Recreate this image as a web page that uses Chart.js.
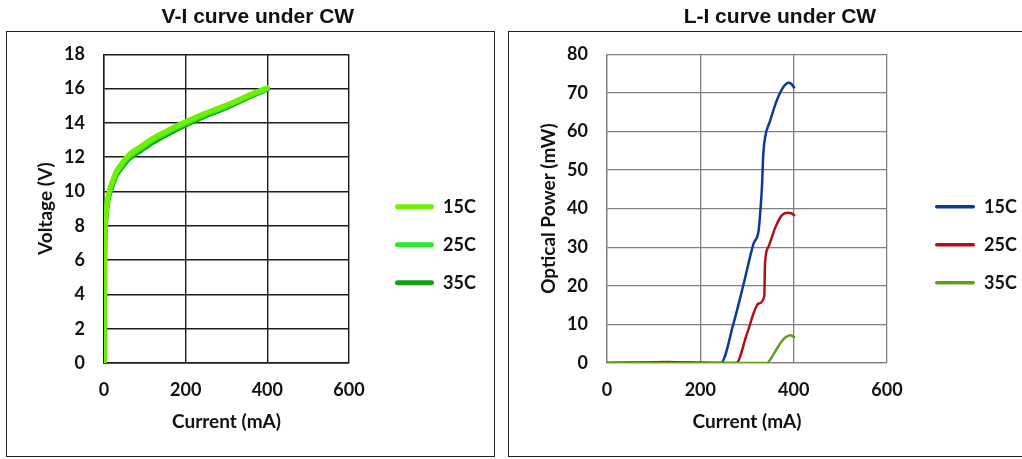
<!DOCTYPE html>
<html>
<head>
<meta charset="utf-8">
<script src="https://cdn.jsdelivr.net/npm/chart.js@4.4.1/dist/chart.umd.min.js"></script>
<style>
  body { margin: 0; background: #fff; }
  .frame { position: absolute; border: 1.5px solid #222; }
  canvas { position: absolute; top: 0; }
</style>
</head>
<body>
<div class="frame" style="left:6px;top:31px;width:487px;height:424px"></div>
<div class="frame" style="left:508px;top:31px;width:520px;height:424px"></div>
<canvas id="vi" width="500" height="459" style="left:0"></canvas>
<canvas id="li" width="518" height="459" style="left:504px"></canvas>
<script>
const temps = ['15C', '25C', '35C'];

// V-I curve (current mA -> voltage V)
const viCurrent = [0, 0.5, 1, 1.5, 2.5, 4, 7, 10, 15, 21, 29, 40, 60, 90, 121, 160, 203, 250, 304, 350, 400];
const viV15 = [0, 2, 4, 6, 7.55, 8.4, 9.22, 9.72, 10.22, 10.62, 11.12, 11.52, 12.12, 12.62, 13.12, 13.61, 14.1, 14.59, 15.08, 15.56, 16.05];
const viV25 = [0, 2, 4, 6, 7.5, 8.3, 9.1, 9.6, 10.1, 10.5, 11, 11.4, 12, 12.5, 13, 13.5, 14, 14.5, 15, 15.5, 16];
const viV35 = [0, 2, 4, 6, 7.45, 8.2, 8.98, 9.48, 9.98, 10.38, 10.88, 11.28, 11.88, 12.38, 12.88, 13.39, 13.9, 14.41, 14.92, 15.44, 15.96];

// L-I curve (current mA -> optical power mW)
const liI15 = [0, 60, 120, 180, 244, 271, 293, 314, 325, 329, 332, 335, 339, 350, 364, 378, 389, 395, 401];
const liP15 = [0, 0.1, 0, 0.1, 0, 10.2, 20.6, 30.9, 34.4, 40, 45.6, 54.3, 58.6, 62.9, 68.1, 71.5, 72.6, 72.3, 71.4];
const liI25 = [0, 60, 100, 130, 170, 200, 277, 300, 325, 337, 338.6, 346, 361, 375, 387, 395, 401];
const liP25 = [0, 0, 0.2, 0.25, 0.1, 0, 0, 7.6, 15.4, 17.3, 25.8, 30.1, 35.2, 38.3, 38.9, 38.8, 38.3];
const liI35 = [0, 100, 200, 300, 343, 352, 364, 373, 382, 393, 401];
const liP35 = [0, 0, 0, 0, 0, 1.3, 3.7, 5.4, 6.6, 7.2, 6.7];

const viColors = ['#6ef000', '#2ee82e', '#14a014'];
const liColors = ['#0b3a9c', '#b01010', '#62a01c'];

const family = 'Lato, "Open Sans", sans-serif';
Chart.defaults.font.family = family;
Chart.defaults.color = '#111';

const tickFont = { size: 18, weight: 'bold' };
const axisTitleFont = { size: 19, weight: 'bold' };
const legendFont = { size: 18, weight: 'bold' };
const titleFont = { family: '"Liberation Sans", Arial, sans-serif', size: 21, weight: 'bold' };

const toPoints = (xs, ys) => xs.map((x, i) => ({ x, y: ys[i] }));

// legend box size: padding + box + half font + text + 10
const measure = document.createElement('canvas').getContext('2d');
measure.font = `bold ${legendFont.size}px ${family}`;
const legendTextW = Math.max(...temps.map(t => measure.measureText(t).width));
const legendWidth = (boxW) => 20 + boxW + legendFont.size / 2 + legendTextW + 10;

function legendOpts(lineH, boxW) {
  return {
    position: 'right',
    fullSize: false,
    maxWidth: 300,
    title: { display: true, text: '', padding: { top: 52, bottom: 0 }, font: { size: 17 } },
    labels: {
      font: legendFont,
      color: '#111',
      boxWidth: boxW,
      boxHeight: lineH,
      padding: 20,
      sort: (a, b) => a.datasetIndex - b.datasetIndex,
      generateLabels(chart) {
        return Chart.defaults.plugins.legend.labels.generateLabels(chart).map(item => ({
          ...item, fillStyle: item.strokeStyle, lineWidth: 0, borderRadius: lineH / 2
        }));
      }
    }
  };
}

function makeScales(yTitle, yMax, yStep, gridColor, gridWidth, gapW) {
  const grid = { color: gridColor, lineWidth: gridWidth, drawTicks: false };
  const border = { display: true, color: gridColor, width: gridWidth };
  return {
    x: {
      type: 'linear', min: 0, max: 600,
      ticks: { stepSize: 200, padding: 16, font: tickFont, color: '#111' },
      grid, border,
      title: { display: true, text: 'Current (mA)', font: axisTitleFont, color: '#111' },
      afterFit: s => { s.height = 74; }
    },
    y: {
      min: 0, max: yMax,
      ticks: { stepSize: yStep, padding: 19, font: tickFont, color: '#111' },
      grid, border,
      title: { display: true, text: yTitle, font: axisTitleFont, color: '#111' },
      afterFit: s => { s.width = 74; }
    },
    gap: {
      axis: 'y', position: 'right', display: true,
      grid: { display: false }, border: { display: false }, ticks: { display: false },
      afterFit: s => { s.width = gapW; }
    }
  };
}

// left chart: plot right edge 349, legend lines start at 395
new Chart(document.getElementById('vi'), {
  type: 'line',
  data: {
    datasets: [viV15, viV25, viV35].map((v, i) => ({
      label: temps[i],
      data: toPoints(viCurrent, v),
      borderColor: viColors[i],
      backgroundColor: viColors[i],
      borderWidth: 5,
      pointRadius: 0,
      cubicInterpolationMode: 'monotone',
      borderCapStyle: 'round',
      borderJoinStyle: 'round'
    }))
  },
  options: {
    responsive: false,
    animation: false,
    layout: { padding: { left: 30, right: 500 - 375 - legendWidth(39), top: 0, bottom: 22 } },
    plugins: {
      title: { display: true, text: 'V-I curve under CW', font: titleFont, color: '#111', padding: { top: 5, bottom: 24 } },
      legend: legendOpts(5, 39),
      tooltip: { enabled: false }
    },
    scales: makeScales('Voltage (V)', 18, 2, '#1c1c1c', 1.4, 26)
  }
});

// right chart: plot right edge 383 (canvas coords), legend lines start at 431
new Chart(document.getElementById('li'), {
  type: 'line',
  data: {
    datasets: [[liI15, liP15], [liI25, liP25], [liI35, liP35]].map(([xs, ys], i) => ({
      label: temps[i],
      data: toPoints(xs, ys),
      borderColor: liColors[i],
      backgroundColor: liColors[i],
      borderWidth: 2.5,
      pointRadius: 0,
      order: 2 - i,
      cubicInterpolationMode: 'monotone',
      borderCapStyle: 'round',
      borderJoinStyle: 'round'
    }))
  },
  options: {
    responsive: false,
    animation: false,
    layout: { padding: { left: 29, right: 518 - 411 - legendWidth(40), top: 0, bottom: 22 } },
    plugins: {
      title: { display: true, text: 'L-I curve under CW', font: titleFont, color: '#111', padding: { top: 5, bottom: 24 } },
      legend: legendOpts(3.5, 40),
      tooltip: { enabled: false }
    },
    scales: makeScales('Optical Power (mW)', 80, 10, '#808080', 1.3, 28)
  }
});
</script>
</body>
</html>
